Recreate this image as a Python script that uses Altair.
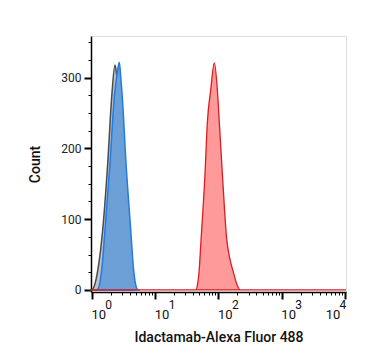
import altair as alt
import pandas as pd

# Histogram outlines: log10(intensity), count
gray_log = [0.0, 0.03, 0.1, 0.174, 0.253, 0.316, 0.368, 0.40, 0.436, 0.499, 0.578, 0.62, 0.652, 0.67]
gray_cnt = [0, 3, 30, 85, 179, 273, 318, 300, 273, 179, 85, 30, 3, 0]

blue_log = [0.08, 0.104, 0.16, 0.21, 0.289, 0.357, 0.40, 0.436, 0.46, 0.483, 0.542, 0.616, 0.66, 0.711, 0.73]
blue_cnt = [0, 2, 30, 85, 179, 273, 305, 322, 300, 273, 179, 85, 30, 2, 0]

red_log = [-0.011, 1.645, 1.668, 1.695, 1.727, 1.79, 1.826, 1.88, 1.937, 1.984, 2.016, 2.063, 2.133, 2.18, 2.237, 2.30, 2.343, 4.016]
red_cnt = [0, 0, 6, 25, 71, 165, 236, 283, 321, 283, 236, 165, 71, 45, 25, 6, 0, 0]

major_x = [1, 10, 100, 1000, 10000]
minor_mult = [2, 3, 4, 5, 6, 7, 8, 9]
x_ticks = sorted(major_x + [m * d for d in major_x[:-1] for m in minor_mult])
y_ticks = [0, 25, 50, 75, 100, 125, 150, 175, 200, 225, 250, 275, 300, 325, 350]
exponents = ["0", "1", "2", "3", "4"]

def frame(logs, cnts, name):
    return pd.DataFrame({"x": [10 ** v for v in logs], "y": cnts, "s": name})

gray_df = frame(gray_log, gray_cnt, "gray")
blue_df = frame(blue_log, blue_cnt, "blue")
red_df = frame(red_log, red_cnt, "red")
lab_df = pd.DataFrame({"x": major_x, "base": ["10"] * 5, "exp": exponents})

W, H = 255, 256
FONT = "Roboto"

xscale = alt.Scale(type="log", domain=[10 ** -0.011, 10 ** 4.016], nice=False)
yscale = alt.Scale(domain=[-3, 359], nice=False, zero=False)

is_major_x = " || ".join(f"datum.value == {v}" for v in major_x)

x_enc = alt.X(
    "x:Q", scale=xscale,
    axis=alt.Axis(
        values=x_ticks, labels=False, grid=False,
        title="Idactamab-Alexa Fluor 488", titleFont=FONT, titleFontSize=14,
        titleFontWeight=500, titleColor="#111", titlePadding=30,
        domainColor="black", domainWidth=1.5, tickColor="black",
        tickSize={"condition": {"test": is_major_x, "value": 7}, "value": 3},
        tickWidth={"condition": {"test": is_major_x, "value": 2}, "value": 1},
    ),
)
y_enc = alt.Y(
    "y:Q", scale=yscale,
    axis=alt.Axis(
        values=y_ticks, grid=False,
        labelExpr="datum.value % 100 === 0 ? datum.label : ''",
        labelFont=FONT, labelFontSize=12, labelColor="#222", labelPadding=3,
        title="Count", titleFont=FONT, titleFontSize=14, titleFontWeight=500,
        titleColor="#111", titlePadding=18,
        domainColor="black", domainWidth=1.5, tickColor="black",
        tickSize={"condition": {"test": "datum.value % 100 === 0", "value": 7}, "value": 3},
        tickWidth={"condition": {"test": "datum.value % 100 === 0", "value": 2}, "value": 1},
    ),
)

def area(df, fill, stroke, op, sw=1.5):
    return alt.Chart(df).mark_area(
        interpolate="monotone", fill=fill, fillOpacity=op,
        stroke=stroke, strokeWidth=sw,
    ).encode(x=x_enc, y=y_enc)

gray = area(gray_df, "#b4b4b4", "#4a4a4a", 0.8)
blue = area(blue_df, "#6c9fd6", "#1f7ce6", 1.0)
red = area(red_df, "#ff9a9a", "#dc1c22", 1.0, 1.3)

lab_main = alt.Chart(lab_df).transform_filter("datum.x < 10000")
lab_last = alt.Chart(lab_df).transform_filter("datum.x >= 10000")

def labels(src, dx_base, dx_exp):
    b = src.mark_text(font=FONT, fontSize=13, color="#111", baseline="middle", align="center", dx=dx_base).encode(
        x=alt.X("x:Q", scale=xscale), y=alt.value(H + 23), text="base:N")
    e = src.mark_text(font=FONT, fontSize=12, color="#111", baseline="middle", align="center", dx=dx_exp).encode(
        x=alt.X("x:Q", scale=xscale), y=alt.value(H + 13), text="exp:N")
    return b + e

chart = alt.layer(
    gray, blue, red,
    labels(lab_main, 7, 17),
    labels(lab_last, -12, -2),
).properties(
    width=W, height=H,
    autosize=alt.AutoSizeParams(type="none"),
    padding={"left": 83, "top": 28, "right": 12, "bottom": 60},
).configure_view(stroke="black", strokeWidth=1.5).configure(background="white")

chart.save("out.html", embed_options={"renderer": "svg", "actions": False})
